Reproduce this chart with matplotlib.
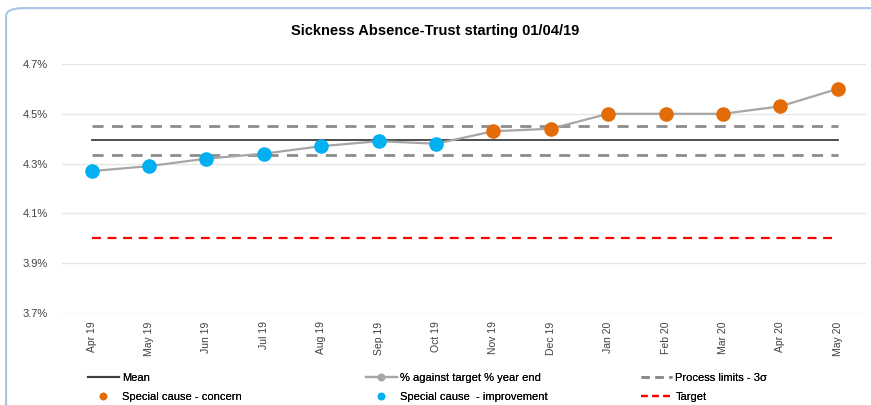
import matplotlib
matplotlib.use("Agg")
import matplotlib.pyplot as plt
from matplotlib.lines import Line2D
from matplotlib.patches import FancyBboxPatch
from matplotlib.ticker import FuncFormatter

plt.rcParams["font.family"] = ["Liberation Sans", "DejaVu Sans"]

months = ["Apr 19", "May 19", "Jun 19", "Jul 19", "Aug 19", "Sep 19", "Oct 19",
          "Nov 19", "Dec 19", "Jan 20", "Feb 20", "Mar 20", "Apr 20", "May 20"]
absence = [4.27, 4.29, 4.32, 4.34, 4.37, 4.39, 4.38,
           4.43, 4.44, 4.50, 4.50, 4.50, 4.53, 4.60]
# special cause flag per month: "imp" = improvement, "con" = concern
cause = ["imp"] * 7 + ["con"] * 7
mean_val = 4.394
upper_limit = 4.452
lower_limit = 4.336
target = 4.00

blue = "#00B0F0"
orange = "#E36C09"

fig = plt.figure(figsize=(8.71, 4.05), dpi=100)
ax = fig.add_axes([0.071, 0.227, 0.923, 0.615])

x = list(range(len(months)))
ax.plot(x, [mean_val] * len(x), color="#404040", lw=1.3, zorder=2)
ax.plot(x, [upper_limit] * len(x), color="#8C8C8C", lw=2, ls=(0, (4, 3)), zorder=2)
ax.plot(x, [lower_limit] * len(x), color="#8C8C8C", lw=2, ls=(0, (4, 3)), zorder=2)
ax.plot(x, [target] * len(x), color="#FF0000", lw=1.6, ls=(0, (4, 3)), zorder=2)
ax.plot(x, absence, color="#A6A6A6", lw=1.6, zorder=3)

for xi, v, c in zip(x, absence, cause):
    ax.plot(xi, v, "o", ms=10.5, color=blue if c == "imp" else orange,
            mec="none", zorder=4)

ax.set_xlim(-0.52, 13.49)
ax.set_ylim(3.7, 4.7)
ax.set_yticks([3.7, 3.9, 4.1, 4.3, 4.5, 4.7])
ax.yaxis.set_major_formatter(FuncFormatter(lambda v, p: f"{v:.1f}%"))
ax.set_xticks(x)
ax.set_xticklabels(months, rotation=90, fontsize=7.5, color="#404040")
ax.tick_params(axis="y", labelsize=8, colors="#404040", length=0, pad=10)
ax.tick_params(axis="x", length=0, pad=6)
ax.grid(axis="y", color="#E6E6E6", lw=1)
ax.set_axisbelow(True)
for s in ax.spines.values():
    s.set_visible(False)

fig.text(0.5, 0.923, "Sickness Absence-Trust starting 01/04/19",
         ha="center", va="center", fontsize=10.5, fontweight="bold")

# legend: three columns of two entries each
columns = [
    ([Line2D([], [], color="#404040", lw=1.5),
      Line2D([], [], color=orange, marker="o", ls="none", ms=5.5, mec="none")],
     ["Mean", "Special cause - concern"], 0.092),
    ([Line2D([], [], color="#A6A6A6", lw=1.6, marker="o", ms=4.5),
      Line2D([], [], color=blue, marker="o", ls="none", ms=5.5, mec="none")],
     ["% against target % year end", "Special cause  - improvement"], 0.411),
    ([Line2D([], [], color="#8C8C8C", lw=2, ls=(0, (3, 2))),
      Line2D([], [], color="#FF0000", lw=1.6, ls=(0, (3, 2)))],
     ["Process limits - 3\u03c3", "Target"], 0.727),
]
for hs, ls, x0 in columns:
    leg = fig.legend(hs, ls, loc="lower left", bbox_to_anchor=(x0, -0.012),
                     frameon=False, fontsize=8, handlelength=2.8,
                     labelspacing=0.85, handletextpad=0.3, borderaxespad=0.3)
    fig.add_artist(leg)

# rounded chart frame
frame = FancyBboxPatch((0.007, -0.05), 1.05, 1.03, transform=fig.transFigure,
                       boxstyle="round,pad=0,rounding_size=0.02",
                       fc="none", ec="#A9C4E6", lw=1.5)
fig.patches.append(frame)

fig.savefig("out.png", dpi=100)
